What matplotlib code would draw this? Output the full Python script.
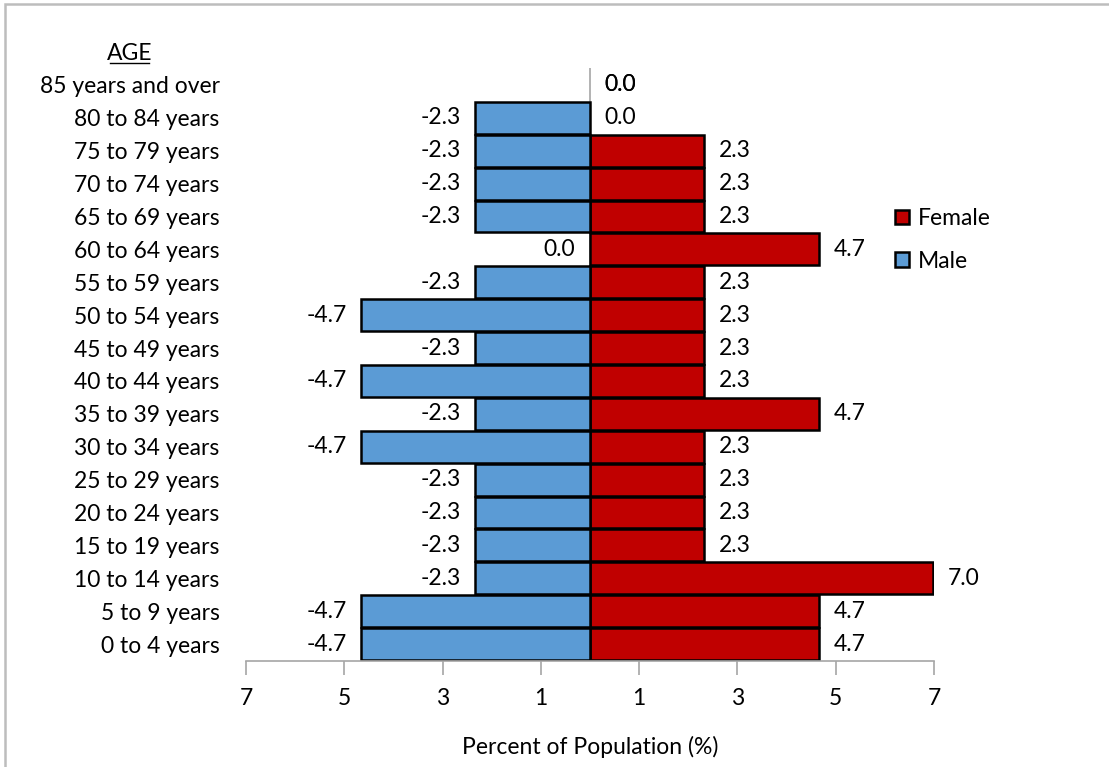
import matplotlib.pyplot as plt
from matplotlib.patches import Rectangle
import numpy as np

plt.rcParams["font.family"] = ["Lato", "DejaVu Sans"]

age_groups = [
    "0 to 4 years", "5 to 9 years", "10 to 14 years", "15 to 19 years",
    "20 to 24 years", "25 to 29 years", "30 to 34 years", "35 to 39 years",
    "40 to 44 years", "45 to 49 years", "50 to 54 years", "55 to 59 years",
    "60 to 64 years", "65 to 69 years", "70 to 74 years", "75 to 79 years",
    "80 to 84 years", "85 years and over",
]
male = [-4.65, -4.65, -2.33, -2.33, -2.33, -2.33, -4.65, -2.33, -4.65,
        -2.33, -4.65, -2.33, 0.0, -2.33, -2.33, -2.33, -2.33, 0.0]
female = [4.65, 4.65, 6.98, 2.33, 2.33, 2.33, 2.33, 4.65, 2.33,
          2.33, 2.33, 2.33, 4.65, 2.33, 2.33, 2.33, 0.0, 0.0]
tick_pos = [-7, -5, -3, -1, 1, 3, 5, 7]
tick_labels = ["7", "5", "3", "1", "1", "3", "5", "7"]

FS = 16.5

fig = plt.figure(figsize=(11.09, 7.67), dpi=100)
ax = fig.add_axes([0.2218, 0.1388, 0.6204, 0.7719])

# outer frame (cut off at right and bottom like the source)
fig.patches.append(Rectangle((5 / 1109, -0.1), 1.2, 1 - 4 / 767 + 0.1,
                             transform=fig.transFigure, fill=False,
                             edgecolor="#bdbdbd", linewidth=1.8))

y = np.arange(len(age_groups))
ax.axvline(0, color="#a6a6a6", linewidth=1.2, zorder=1)
f_edges = ["black" if v != 0 else "none" for v in female]
m_edges = ["black" if v != 0 else "none" for v in male]
ax.barh(y, female, height=0.97, color="#c00000", edgecolor=f_edges,
        linewidth=1.8, label="Female", zorder=2)
ax.barh(y, male, height=0.97, color="#5b9bd5", edgecolor=m_edges,
        linewidth=1.8, label="Male", zorder=2)

for i in range(len(age_groups)):
    f, m = female[i], male[i]
    ax.text(f + 0.3, y[i], f"{f:.1f}", ha="left", va="center", fontsize=FS)
    if m == 0 and f == 0:
        ax.text(0.3, y[i], "0.0", ha="left", va="center", fontsize=FS)
    else:
        ax.text(m - 0.3, y[i], f"{m:.1f}", ha="right", va="center",
                fontsize=FS)

ax.set_xlim(-7, 7)
ax.set_ylim(-0.5, len(age_groups) - 0.5)
ax.set_yticks(y)
ax.set_yticklabels(age_groups, fontsize=FS)
ax.tick_params(axis="y", length=0, pad=19)
ax.set_xticks(tick_pos)
ax.set_xticklabels(tick_labels, fontsize=FS)
ax.tick_params(axis="x", length=10, width=1.2, color="#a6a6a6", pad=10)
ax.set_xlabel("Percent of Population (%)", fontsize=FS)
ax.xaxis.set_label_coords(0.5, -0.128)

for side in ["top", "right", "left"]:
    ax.spines[side].set_visible(False)
ax.spines["bottom"].set_color("#a6a6a6")
ax.spines["bottom"].set_linewidth(1.2)

ax.text(-0.169, 1.014, "AGE", transform=ax.transAxes, ha="center",
        va="baseline", fontsize=FS)
ax.plot([-0.197, -0.141], [1.0085, 1.0085], transform=ax.transAxes,
        color="black", linewidth=1, clip_on=False)

ax.legend(loc="upper left", bbox_to_anchor=(0.93, 0.78), frameon=False,
          fontsize=FS, handlelength=0.6, handleheight=0.6,
          handletextpad=0.4, labelspacing=0.95, borderaxespad=0)

fig.savefig("out.png", dpi=100)
